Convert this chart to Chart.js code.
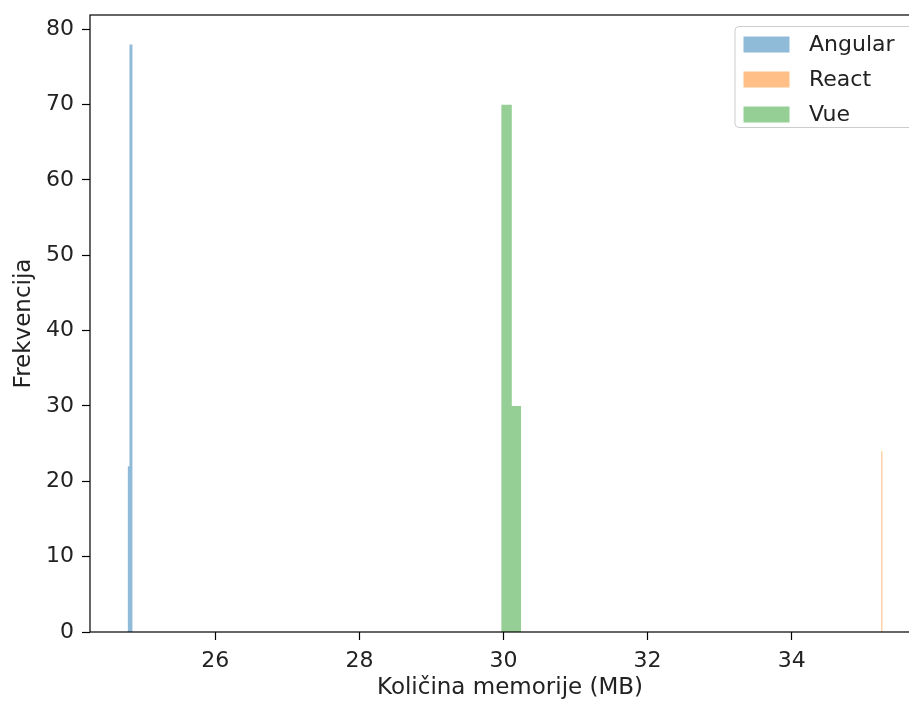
<!DOCTYPE html>
<html>
<head>
<meta charset="utf-8">
<script src="https://cdn.jsdelivr.net/npm/chart.js@4.4.1/dist/chart.umd.min.js"></script>
<style>
  html, body { margin: 0; padding: 0; background: #fff; overflow: hidden; }
  #wrap { width: 940px; height: 704px; }
</style>
</head>
<body>
<div id="wrap"><canvas id="chart" width="940" height="704"></canvas></div>
<script>
// histogram bins (edges) and counts per framework
const angularEdges = [24.782, 24.808, 24.852];
const angularCounts = [22, 78];
const reactEdges = [35.242, 35.262];
const reactCounts = [24];
const vueEdges = [29.968, 30.115, 30.246];
const vueCounts = [70, 30];

const xTicks = [26, 28, 30, 32, 34];
const yTicks = [0, 10, 20, 30, 40, 50, 60, 70, 80];

const FONT = '"DejaVu Sans", sans-serif';
const FS = 22;
const TXT = "#222";

// turn edges + counts into a stepped outline that gets filled down to 0
function steps(edges, counts) {
  const pts = [{ x: edges[0], y: 0 }];
  counts.forEach((c, i) => {
    pts.push({ x: edges[i], y: c });
    pts.push({ x: edges[i + 1], y: c });
  });
  pts.push({ x: edges[edges.length - 1], y: 0 });
  return pts;
}

function hist(label, edges, counts, color) {
  return {
    label: label,
    data: steps(edges, counts),
    backgroundColor: color,
    borderWidth: 0,
    fill: "origin",
    pointRadius: 0,
    tension: 0,
  };
}

const spines = {
  id: "spines",
  afterDatasetsDraw(chart) {
    const { ctx, chartArea: a } = chart;
    ctx.save();
    ctx.strokeStyle = "#000";
    ctx.lineWidth = 1.2;
    ctx.strokeRect(a.left, a.top, a.right - a.left, a.bottom - a.top);
    ctx.restore();
  },
};

const legendBox = {
  id: "legendBox",
  afterDraw(chart) {
    const { ctx, chartArea: a } = chart;
    const sets = chart.data.datasets;
    const left = a.right - 195;
    const top = a.top + 11.5;
    const right = a.right - 11;
    const h = 101;
    ctx.save();
    ctx.beginPath();
    ctx.roundRect(left, top, right - left, h, 4);
    ctx.fillStyle = "rgba(255,255,255,0.8)";
    ctx.fill();
    ctx.strokeStyle = "#cccccc";
    ctx.lineWidth = 1;
    ctx.stroke();
    ctx.font = FS + "px " + FONT;
    ctx.textBaseline = "middle";
    sets.forEach((d, i) => {
      const cy = top + 18 + i * 35;
      ctx.fillStyle = d.backgroundColor;
      ctx.fillRect(left + 8.5, cy - 8, 46, 16);
      ctx.fillStyle = TXT;
      ctx.fillText(d.label, left + 74, cy + 1);
    });
    ctx.restore();
  },
};

function noPad(s) {
  s.paddingTop = 0;
  s.paddingBottom = 0;
  s.paddingLeft = 0;
  s.paddingRight = 0;
}

const config = {
  type: "line",
  data: {
    datasets: [
      hist("Angular", angularEdges, angularCounts, "rgba(31,119,180,0.5)"),
      hist("React", reactEdges, reactCounts, "rgba(255,127,14,0.5)"),
      hist("Vue", vueEdges, vueCounts, "rgba(44,160,44,0.5)"),
    ],
  },
  options: {
    responsive: false,
    animation: false,
    devicePixelRatio: 1,
    layout: { padding: { top: 15, right: 10, left: 0, bottom: 0 } },
    plugins: {
      legend: { display: false },
      tooltip: { enabled: false },
    },
    scales: {
      x: {
        type: "linear",
        min: 24.26,
        max: 35.92,
        afterBuildTicks: (s) => { s.ticks = xTicks.map((v) => ({ value: v })); },
        afterFit: (s) => { s.height = 72; noPad(s); },
        border: { display: false },
        grid: {
          drawOnChartArea: false,
          drawTicks: true,
          tickLength: 8,
          tickWidth: 1.2,
          tickColor: "#000",
        },
        ticks: {
          padding: 8,
          maxRotation: 0,
          color: TXT,
          font: { family: FONT, size: FS },
        },
        title: {
          display: true,
          text: "Količina memorije (MB)",
          color: TXT,
          font: { family: FONT, size: 23 },
          padding: { top: 0, bottom: 2 },
        },
      },
      y: {
        min: 0,
        max: 81.9,
        afterBuildTicks: (s) => { s.ticks = yTicks.map((v) => ({ value: v })); },
        afterFit: (s) => { s.width = 90; noPad(s); },
        border: { display: false },
        grid: {
          drawOnChartArea: false,
          drawTicks: true,
          tickLength: 8,
          tickWidth: 1.2,
          tickColor: "#000",
        },
        ticks: {
          padding: 8,
          color: TXT,
          font: { family: FONT, size: FS },
        },
        title: {
          display: true,
          text: "Frekvencija",
          color: TXT,
          font: { family: FONT, size: 23 },
          padding: { top: 10, bottom: 0 },
        },
      },
    },
  },
  plugins: [spines, legendBox],
};

new Chart(document.getElementById("chart"), config);
</script>
</body>
</html>
